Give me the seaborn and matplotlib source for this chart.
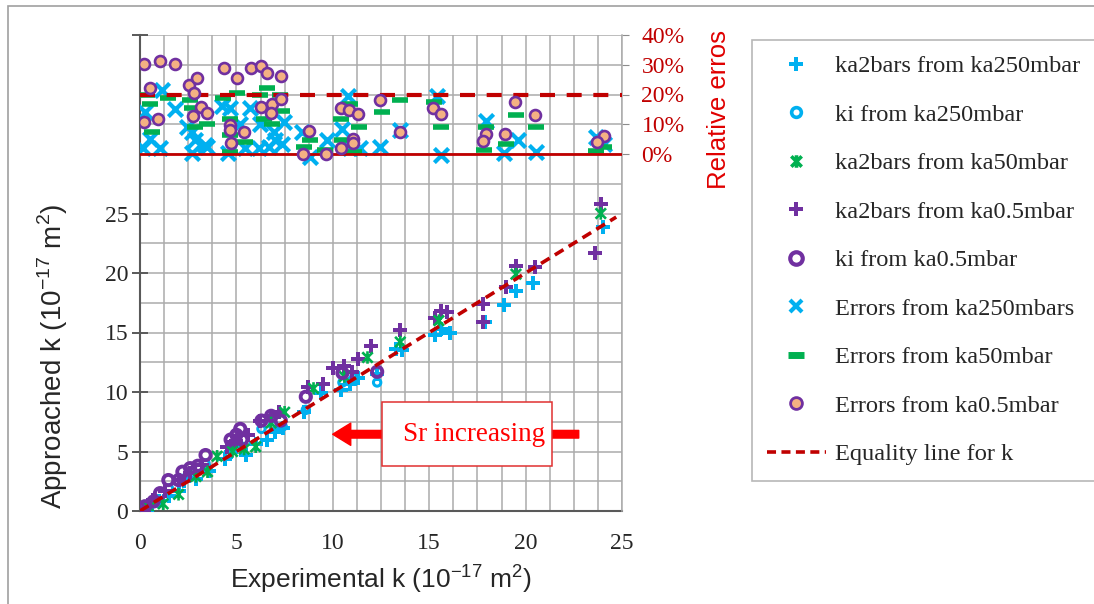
import matplotlib
matplotlib.use("Agg")
import matplotlib.pyplot as plt
import seaborn as sns
import numpy as np
from matplotlib.lines import Line2D
from matplotlib.path import Path
from matplotlib.patches import Rectangle, FancyArrowPatch, ArrowStyle

# ---------------- data ----------------
# ka2bars from ka250mbar (cyan plus)
a_x = [0.2, 0.6, 1.0, 1.5, 2.0, 2.3, 2.9, 3.6, 4.4, 4.7, 5.5, 6.0, 6.6, 7.0, 7.4, 8.5, 9.4, 10.4,
       10.9, 11.3, 12.3, 13.3, 13.6, 15.3, 15.6, 16.1, 17.9, 18.9, 19.5, 20.4, 24.0]
a_y = [0.1, 0.4, 0.8, 1.3, 1.7, 2.5, 2.7, 3.4, 4.4, 5.0, 4.7, 5.6, 6.0, 6.6, 7.0, 8.3, 9.9, 10.2,
       10.7, 11.2, 11.5, 13.6, 13.5, 14.8, 15.3, 15.0, 15.9, 17.3, 18.5, 19.2, 23.9]
# ki from ka250mbar (cyan circles)
b_x = [0.3, 0.9, 1.5, 2.2, 2.6, 3.4, 4.7, 5.3, 6.3, 6.9, 7.4, 8.6, 10.5, 11.1, 12.3]
b_y = [0.2, 0.8, 1.9, 2.7, 3.0, 4.0, 5.3, 5.4, 6.9, 7.2, 7.1, 8.5, 10.8, 11.2, 10.8]
# ka2bars from ka50mbar (green star)
c_x = [0.5, 1.2, 2.0, 2.9, 3.5, 4.0, 4.8, 5.4, 6.0, 6.8, 7.5, 9.0, 10.6, 11.8, 13.5, 15.5, 19.5, 23.9]
c_y = [0.3, 0.6, 1.4, 2.9, 3.3, 4.6, 5.0, 5.2, 5.4, 7.4, 8.3, 10.3, 11.3, 12.9, 14.2, 16.0, 19.9, 25.0]
# ka2bars from ka0.5mbar (purple plus)
d_x = [0.2, 0.7, 1.3, 2.0, 2.6, 3.2, 4.5, 5.0, 5.6, 6.2, 6.8, 7.2, 8.7, 9.5, 10.0, 10.6, 11.0, 11.3,
       12.0, 13.5, 15.3, 15.6, 15.9, 17.8, 17.8, 19.0, 19.5, 20.5, 23.6, 23.9]
d_y = [0.1, 0.9, 1.7, 2.6, 3.2, 3.9, 5.4, 5.9, 6.4, 7.6, 8.0, 8.3, 10.4, 10.7, 12.0, 12.2, 11.7, 12.8,
       13.9, 15.2, 16.2, 16.8, 16.7, 17.4, 15.9, 18.8, 20.6, 20.5, 21.7, 25.8]
# ki from ka0.5mbar (purple circles)
e_x = [0.26, 0.7, 1.04, 1.47, 2.0, 2.2, 2.6, 3.0, 3.4, 4.7, 5.0, 5.2, 5.3, 6.3, 6.8, 7.3, 8.6, 10.5, 12.3]
e_y = [0.4, 0.8, 1.5, 2.6, 2.6, 3.3, 3.6, 3.8, 4.7, 6.0, 6.4, 6.9, 6.0, 7.6, 8.0, 7.6, 9.6, 11.6, 11.7]

# Errors (%) from ka250mbars (cyan x)
e250_x = [0.17, 0.26, 0.52, 1.04, 1.13, 1.82, 2.69, 2.69, 2.86, 3.47, 4.25, 4.59, 4.68, 5.2, 5.46,
          5.72, 6.15, 6.24, 6.67, 6.93, 7.36, 7.45, 8.4, 8.84, 9.7, 10.48, 10.8, 10.9, 11.43, 12.47,
          13.5, 15.4, 15.6, 17.93, 18.9, 19.58, 20.53, 23.65, 24.08, 2.43, 3.38, 7.0]
e250_y = [1.9, 14.0, 5.2, 1.9, 21.4, 15.1, 7.4, 0.2, 4.6, 2.4, 16.2, 0.2, 15.6, 10.1, 1.9,
          15.6, 1.9, 10.1, 2.4, 7.4, 3.5, 10.7, 7.4, -0.9, 4.6, 8.5, 19.5, 1.9, 1.9, 2.4,
          7.9, 19.5, -0.3, 11.2, 0.2, 4.6, 0.8, 5.7, 3.5, 9.0, 3.0, 4.6]
# Errors (%) from ka50mbar (green dash)
e50_x = [0.35, 0.52, 0.6, 1.47, 2.6, 2.69, 2.86, 3.47, 4.33, 4.68, 4.68, 4.68, 5.02, 5.46, 6.24,
         6.41, 6.58, 6.84, 7.28, 7.36, 8.49, 8.84, 9.62, 10.4, 10.48, 10.9, 11.09, 11.35, 12.56,
         13.51, 15.25, 15.6, 17.84, 17.93, 18.97, 19.49, 20.53, 23.65, 24.08]
e50_y = [20.0, 16.7, 7.4, 18.9, 18.1, 15.6, 9.0, 10.1, 18.9, 11.8, 6.3, 0.8, 20.6, 4.1, 20.0,
         11.8, 22.2, 10.1, 20.0, 14.5, 2.4, 4.6, 1.3, 11.6, 4.6, 16.7, 0.8, 9.2, 14.0,
         18.1, 17.6, 9.0, 1.3, 9.2, 3.3, 13.1, 9.2, 1.1, 2.4]
# Errors (%) from ka0.5mbar (orange circles)
e05_x = [0.22, 1.04, 1.82, 0.52, 0.22, 0.92, 2.55, 2.95, 2.82, 3.17, 3.5, 2.74, 4.37, 5.02, 5.77,
         6.29, 6.58, 7.33, 6.29, 6.84, 7.33, 6.81, 4.68, 4.65, 5.42, 4.73, 8.78, 8.45, 9.65, 10.43,
         10.86, 11.31, 11.05, 11.05, 10.43, 12.47, 13.51, 15.21, 15.59, 17.93, 17.81, 18.92, 19.45,
         20.5, 24.05, 23.69]
e05_y = [30.3, 31.1, 30.3, 22.2, 10.9, 11.8, 23.1, 25.4, 20.6, 15.9, 13.7, 12.7, 28.9, 25.4, 28.9,
         29.5, 27.2, 26.1, 15.9, 16.7, 18.4, 13.7, 9.9, 8.2, 7.4, 3.6, 7.6, 0.1, 0.1, 15.4,
         14.9, 13.4, 5.2, 3.6, 1.9, 18.2, 7.4, 15.6, 13.4, 6.8, 4.4, 6.6, 17.5,
         13.1, 5.9, 4.1]

eq_x = [0.0, 24.7]
eq_y = [0.0, 24.7]

x_ticks = [0, 5, 10, 15, 20, 25]
y_ticks = [0, 5, 10, 15, 20, 25]
pct_ticks = [0, 10, 20, 30, 40]
pct_labels = ["0%", "10%", "20%", "30%", "40%"]

labels = ["ka2bars from ka250mbar", "ki from ka250mbar", "ka2bars from ka50mbar",
          "ka2bars from ka0.5mbar", "ki from ka0.5mbar", "Errors from ka250mbars",
          "Errors from ka50mbar", "Errors from ka0.5mbar", "Equality line for k"]

# ---------------- style ----------------
sns.set_style("white")
plt.rcParams["font.family"] = ["Liberation Serif", "DejaVu Serif"]
plt.rcParams["mathtext.fontset"] = "custom"
plt.rcParams["mathtext.rm"] = "Liberation Sans"

CYAN = "#00B0F0"
GREEN = "#00B050"
PURPLE = "#7030A0"
DRED = "#C00000"
RED = "#FF0000"
ORANGE = "#F4B183"
GRID = "#ABABAB"

W, H = 1094, 604
fig = plt.figure(figsize=(W / 100, H / 100), dpi=100)
ax = fig.add_axes([140 / W, 1 - 511 / H, 482 / W, 476 / H])

ax.set_xlim(0, 25)
ax.set_ylim(0, 40)
ax.set_xticks(x_ticks)
ax.set_xticks(np.arange(0, 25.01, 1.25), minor=True)
ax.set_yticks(y_ticks + [40])
ax.set_yticklabels([str(v) for v in y_ticks] + [""])
ax.set_yticks(np.arange(0, 40.01, 2.5), minor=True)
ax.grid(which="both", color=GRID, lw=1.1)
ax.set_axisbelow(True)
ax.tick_params(which="major", direction="inout", length=11, width=1.4, color="#595959",
               labelsize=17, pad=3)
ax.tick_params(axis="x", which="major", pad=10)
ax.tick_params(which="minor", length=0)
for s in ["top", "right"]:
    ax.spines[s].set_visible(False)
for s in ["left", "bottom"]:
    ax.spines[s].set_color("#595959")
    ax.spines[s].set_linewidth(1.5)

star = Path([(-1, -1), (1, 1), (-1, 1), (1, -1), (0, -1.2), (0, 1.2)],
            [Path.MOVETO, Path.LINETO, Path.MOVETO, Path.LINETO, Path.MOVETO, Path.LINETO])

# main series
sns.scatterplot(x=a_x, y=a_y, ax=ax, marker="P", s=95, color=CYAN, linewidth=0, zorder=3, legend=False)
sns.scatterplot(x=b_x, y=b_y, ax=ax, marker="o", s=28, facecolor="none", edgecolor=CYAN,
                linewidth=2.2, zorder=3, legend=False)
sns.scatterplot(x=d_x, y=d_y, ax=ax, marker="P", s=95, color=PURPLE, linewidth=0, zorder=3, legend=False)
ax.scatter(c_x, c_y, marker=star, s=80, facecolors="none", edgecolors=GREEN, linewidths=1.9, zorder=3)
sns.scatterplot(x=e_x, y=e_y, ax=ax, marker="o", s=55, facecolor="none", edgecolor=PURPLE,
                linewidth=2.8, zorder=3, legend=False)
sns.lineplot(x=eq_x, y=eq_y, ax=ax, color=DRED, lw=2.6, linestyle=(0, (2.8, 1.7)), zorder=5)

# annotation: arrow + box
arrow = FancyArrowPatch((22.9, 6.45), (9.85, 6.45),
                        arrowstyle=ArrowStyle("simple", head_length=13, head_width=16, tail_width=5.5),
                        mutation_scale=1, color=RED, zorder=6)
ax.add_patch(arrow)
ax.add_patch(Rectangle((12.53, 3.78), 8.84, 5.36, facecolor="white", edgecolor="#E03030", lw=1.1, zorder=7))
ax.text(17.35, 6.46, "Sr increasing", color=RED, fontsize=19.5, ha="center", va="center", zorder=8)

ax.set_xlabel(r"Experimental k (10$^{\mathregular{-17}}$ m$^{\mathregular{2}}$)",
              family=["Liberation Sans", "DejaVu Sans"], fontsize=19, labelpad=6)
ax.set_ylabel(r"Approached k (10$^{\mathregular{-17}}$ m$^{\mathregular{2}}$)",
              family=["Liberation Sans", "DejaVu Sans"], fontsize=20)
ax.yaxis.set_label_coords(-0.145, 0.325)

# secondary axis: relative errors
ax2 = ax.twinx()
ax2.set_ylim(-120, 40)
ax2.set_yticks(pct_ticks)
ax2.set_yticklabels(pct_labels)
ax2.tick_params(axis="y", direction="out", length=5, color="#8C8C8C", labelcolor=DRED,
                labelsize=17, pad=9)
for s in ["top", "left", "bottom"]:
    ax2.spines[s].set_visible(False)
ax2.spines["right"].set_color(GRID)
ax2.spines["right"].set_linewidth(1.1)

sns.scatterplot(x=e250_x, y=e250_y, ax=ax2, marker="x", s=105, color=CYAN, linewidth=3.0,
                zorder=3, legend=False)
ax2.scatter(e50_x, e50_y, marker="_", s=130, color=GREEN, linewidths=4.0, zorder=4)
ax2.axhline(0, color=DRED, lw=2.0, zorder=5)
ax2.axhline(20, color=DRED, lw=3.0, linestyle=(0, (3.6, 2.8)), zorder=5)
sns.scatterplot(x=e05_x, y=e05_y, ax=ax2, marker="o", s=62, facecolor=ORANGE, edgecolor=PURPLE,
                linewidth=1.9, zorder=6, legend=False)

fig.text(719 / W, 1 - 110 / H, "Relative erros", rotation=90, ha="center", va="center",
         color="#E00000", fontsize=18.5, family=["Liberation Sans", "DejaVu Sans"])

# legend
handles = [
    Line2D([], [], marker="P", ls="none", color=CYAN, ms=10, mew=0),
    Line2D([], [], marker="o", ls="none", mfc="none", mec=CYAN, mew=2.6, ms=7),
    Line2D([], [], marker=star, ls="none", mfc="none", mec=GREEN, mew=2.6, ms=9),
    Line2D([], [], marker="P", ls="none", color=PURPLE, ms=10, mew=0),
    Line2D([], [], marker="o", ls="none", mfc="none", mec=PURPLE, mew=3.0, ms=9),
    Line2D([], [], marker="x", ls="none", color=CYAN, ms=9, mew=3.0),
    Line2D([], [], marker="_", ls="none", color=GREEN, ms=12, mew=5),
    Line2D([], [], marker="o", ls="none", mfc=ORANGE, mec=PURPLE, mew=2.0, ms=8.5),
    Line2D([], [], color=DRED, lw=2.6, linestyle=(0, (2.5, 1.5))),
]
leg = fig.legend(handles, labels, loc="upper left", bbox_to_anchor=(752 / W, 1 - 40 / H),
                 bbox_transform=fig.transFigure, frameon=True, fancybox=False,
                 edgecolor="#A6A6A6", fontsize=17.6, labelspacing=1.08, handlelength=2.4,
                 handletextpad=0.36, borderpad=0.62, borderaxespad=0, numpoints=1)
leg.get_frame().set_linewidth(1.2)

# figure border
fig.add_artist(Rectangle((8 / W, -0.02), 1.0, 1.02 - 6 / H, transform=fig.transFigure,
                         fill=False, edgecolor="#A0A0A0", lw=1.2))

fig.savefig("out.png", dpi=100)
